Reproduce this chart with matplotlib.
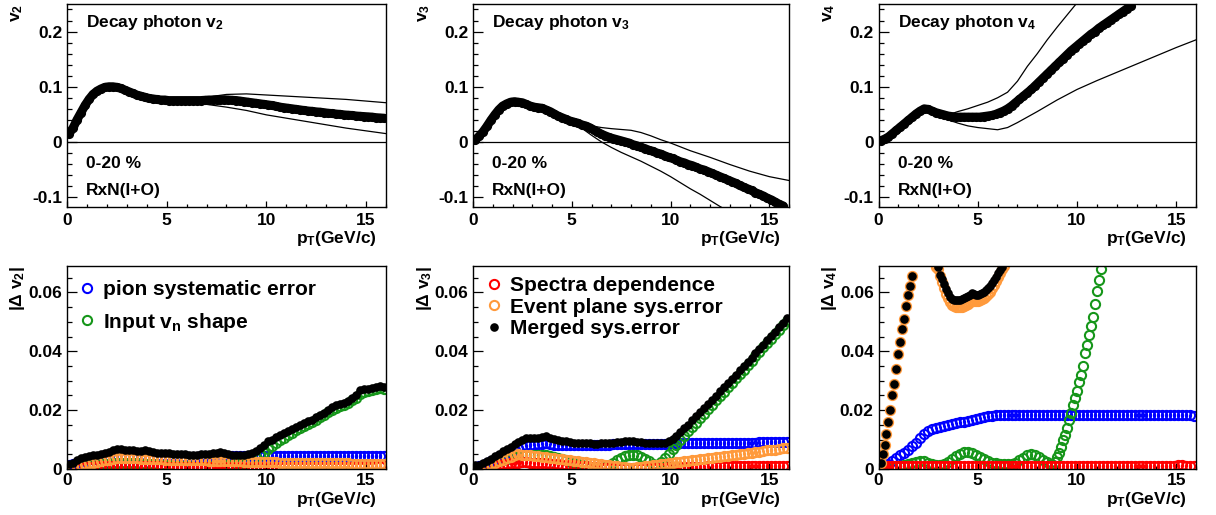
import numpy as np
import matplotlib
matplotlib.use("Agg")
import matplotlib.pyplot as plt
from matplotlib.ticker import MultipleLocator, FuncFormatter

plt.rcParams.update({
    "font.family": ["Liberation Sans", "DejaVu Sans"],
    "font.weight": "bold",
    "mathtext.fontset": "custom",
    "mathtext.rm": "Liberation Sans:bold",
    "mathtext.it": "Liberation Sans:bold",
    "mathtext.bf": "Liberation Sans:bold",
    "mathtext.sf": "Liberation Sans:bold",
    "axes.unicode_minus": False,
})

# ---------------------------------------------------------------- data
# pT bin centres (GeV/c)
PT = [0.1, 0.3, 0.5, 0.7, 0.9, 1.1, 1.3, 1.5, 1.7, 1.9,
      2.1, 2.3, 2.5, 2.7, 2.9, 3.1, 3.3, 3.5, 3.7, 3.9,
      4.1, 4.3, 4.5, 4.7, 4.9, 5.1, 5.3, 5.5, 5.7, 5.9,
      6.1, 6.3, 6.5, 6.7, 6.9, 7.1, 7.3, 7.5, 7.7, 7.9,
      8.1, 8.3, 8.5, 8.7, 8.9, 9.1, 9.3, 9.5, 9.7, 9.9,
      10.1, 10.3, 10.5, 10.7, 10.9, 11.1, 11.3, 11.5, 11.7, 11.9,
      12.1, 12.3, 12.5, 12.7, 12.9, 13.1, 13.3, 13.5, 13.7, 13.9,
      14.1, 14.3, 14.5, 14.7, 14.9, 15.1, 15.3, 15.5, 15.7, 15.9]

# decay photon v_n (central) and its systematic envelope
V2_CENTRAL = [0.015, 0.025, 0.040, 0.053, 0.066, 0.077, 0.086, 0.092, 0.096, 0.099,
              0.100, 0.100, 0.099, 0.097, 0.094, 0.091, 0.088, 0.085, 0.083, 0.081,
              0.079, 0.078, 0.077, 0.076, 0.076, 0.075, 0.075, 0.075, 0.075, 0.075,
              0.075, 0.075, 0.075, 0.075, 0.0755, 0.076, 0.076, 0.0765, 0.0765, 0.0765,
              0.076, 0.0755, 0.075, 0.074, 0.073, 0.072, 0.071, 0.070, 0.069, 0.068,
              0.067, 0.066, 0.0645, 0.063, 0.062, 0.061, 0.060, 0.059, 0.058, 0.057,
              0.056, 0.0555, 0.0545, 0.054, 0.053, 0.052, 0.0515, 0.0505, 0.050, 0.049,
              0.0485, 0.048, 0.047, 0.0465, 0.046, 0.0455, 0.045, 0.044, 0.0435, 0.043]
V2_ENV_PT = [0.1, 0.5, 1, 1.5, 2, 2.5, 3, 4, 5, 6, 7, 8, 9, 10, 11, 12, 13, 14, 15, 16]
V2_UPPER = [0.015, 0.040, 0.074, 0.092, 0.099, 0.099, 0.093, 0.080, 0.076, 0.077,
            0.081, 0.086, 0.087, 0.085, 0.083, 0.081, 0.079, 0.077, 0.074, 0.071]
V2_LOWER = [0.015, 0.040, 0.074, 0.092, 0.099, 0.099, 0.093, 0.080, 0.075, 0.072,
            0.068, 0.063, 0.057, 0.049, 0.043, 0.037, 0.031, 0.025, 0.020, 0.015]

V3_CENTRAL = [0.003, 0.010, 0.018, 0.028, 0.039, 0.049, 0.058, 0.065, 0.069, 0.072,
              0.073, 0.072, 0.071, 0.068, 0.065, 0.063, 0.062, 0.061, 0.058, 0.055,
              0.051, 0.047, 0.044, 0.041, 0.038, 0.036, 0.034, 0.031, 0.029, 0.026,
              0.022, 0.018, 0.014, 0.011, 0.008, 0.006, 0.004, 0.002, 0.000, -0.002,
              -0.005, -0.007, -0.010, -0.012, -0.015, -0.017, -0.020, -0.022, -0.025, -0.028,
              -0.030, -0.033, -0.036, -0.038, -0.041, -0.043, -0.046, -0.049, -0.051, -0.054,
              -0.057, -0.060, -0.063, -0.066, -0.069, -0.072, -0.075, -0.079, -0.082, -0.085,
              -0.088, -0.092, -0.095, -0.098, -0.102, -0.105, -0.109, -0.113, -0.116]
V3_UPPER_PT = [0.1, 0.5, 1, 1.5, 2, 2.5, 3, 3.5, 4, 4.5, 5, 5.5, 6, 6.5, 7, 7.5, 8, 8.5,
               9, 9.5, 10, 11, 12, 13, 14, 15, 16]
V3_UPPER = [0.003, 0.018, 0.045, 0.065, 0.073, 0.071, 0.065, 0.061, 0.053, 0.045,
            0.039, 0.034, 0.029, 0.026, 0.024, 0.0225, 0.021, 0.017, 0.011, 0.004,
            -0.002, -0.016, -0.028, -0.041, -0.053, -0.063, -0.070]
V3_LOWER_PT = [0.1, 0.5, 1, 1.5, 2, 2.5, 3, 3.5, 4, 4.5, 5, 5.5, 6, 6.5, 7, 7.5, 8, 8.5,
               9, 9.5, 10, 10.5, 11, 11.5, 12, 12.5, 12.8]
V3_LOWER = [0.003, 0.018, 0.045, 0.065, 0.073, 0.071, 0.065, 0.061, 0.052, 0.043,
            0.036, 0.025, 0.012, 0.000, -0.010, -0.019, -0.027, -0.035, -0.044, -0.053,
            -0.063, -0.074, -0.085, -0.095, -0.106, -0.117, -0.123]

V4_CENTRAL = [0.002, 0.005, 0.009, 0.015, 0.021, 0.027, 0.033, 0.039, 0.045, 0.051,
              0.056, 0.060, 0.059, 0.056, 0.053, 0.051, 0.049, 0.047, 0.046, 0.045,
              0.045, 0.045, 0.045, 0.045, 0.045, 0.045, 0.046, 0.047, 0.048, 0.050,
              0.053, 0.056, 0.060, 0.065, 0.071, 0.077, 0.083, 0.089, 0.095, 0.102,
              0.109, 0.116, 0.123, 0.130, 0.137, 0.144, 0.151, 0.158, 0.165, 0.171,
              0.177, 0.183, 0.189, 0.195, 0.200, 0.206, 0.211, 0.216, 0.221, 0.226,
              0.231, 0.236, 0.241, 0.246]
V4_UPPER_PT = [0.1, 0.5, 1, 1.5, 2, 2.3, 2.5, 3, 3.5, 4, 4.5, 5, 5.5, 6, 6.5, 7, 7.5, 8,
               8.5, 9, 9.5, 10]
V4_UPPER = [0.002, 0.009, 0.024, 0.039, 0.054, 0.060, 0.059, 0.052, 0.049, 0.055,
            0.060, 0.066, 0.072, 0.080, 0.090, 0.110, 0.137, 0.160, 0.185, 0.208,
            0.230, 0.252]
V4_LOWER_PT = [0.1, 0.5, 1, 1.5, 2, 2.3, 2.5, 3, 3.5, 4, 4.5, 5, 5.5, 6, 6.5, 7, 7.5, 8,
               9, 10, 11, 12, 13, 14, 15, 16]
V4_LOWER = [0.002, 0.009, 0.024, 0.039, 0.054, 0.060, 0.059, 0.052, 0.040, 0.034,
            0.029, 0.026, 0.024, 0.022, 0.026, 0.035, 0.045, 0.055, 0.076, 0.095,
            0.111, 0.126, 0.141, 0.156, 0.171, 0.185]

# |Delta v2| contributions
DV2_PION = [0.0015, 0.0018, 0.0022, 0.0026, 0.0030, 0.0033, 0.0035, 0.0037, 0.0039, 0.0041,
            0.0043, 0.0045, 0.0047, 0.0048, 0.0048, 0.0047, 0.0047, 0.0046, 0.0046, 0.0045,
            0.0045, 0.0044, 0.0044, 0.0044, 0.0043, 0.0043, 0.0043, 0.0043, 0.0042, 0.0042,
            0.0042, 0.0042, 0.0042, 0.0043, 0.0043, 0.0043, 0.0043, 0.0044, 0.0044, 0.0044,
            0.0044, 0.0044, 0.0043, 0.0043, 0.0043, 0.0043, 0.0043, 0.0044, 0.0044, 0.0044,
            0.0044, 0.0044, 0.0045, 0.0044, 0.0044, 0.0045, 0.0044, 0.0044, 0.0045, 0.0044,
            0.0044, 0.0045, 0.0044, 0.0044, 0.0044, 0.0045, 0.0044, 0.0044, 0.0045, 0.0044,
            0.0044, 0.0045, 0.0044, 0.0044, 0.0045, 0.0044, 0.0044, 0.0045, 0.0044, 0.0045]
DV2_SHAPE = [0.0003, 0.0005, 0.0007, 0.0009, 0.0011, 0.0013, 0.0014, 0.0015, 0.0016, 0.0017,
             0.0018, 0.0019, 0.0020, 0.0020, 0.0020, 0.0020, 0.0019, 0.0019, 0.0018, 0.0018,
             0.0017, 0.0016, 0.0015, 0.0014, 0.0013, 0.0012, 0.0011, 0.0010, 0.0010, 0.0009,
             0.0009, 0.0008, 0.0008, 0.0008, 0.0008, 0.0008, 0.0009, 0.0010, 0.0011, 0.0012,
             0.0013, 0.0014, 0.0016, 0.0018, 0.0021, 0.0025, 0.0030, 0.0037, 0.0046, 0.0056,
             0.0068, 0.0078, 0.0088, 0.0098, 0.0107, 0.0116, 0.0124, 0.0132, 0.0139, 0.0147,
             0.0154, 0.0161, 0.0168, 0.0176, 0.0184, 0.0193, 0.0202, 0.0209, 0.0214, 0.0219,
             0.0226, 0.0233, 0.0243, 0.0256, 0.0262, 0.0265, 0.0269, 0.0272, 0.0274, 0.0272]
DV2_SPECTRA = [0.0002, 0.0003, 0.0004, 0.0005, 0.0006, 0.0007, 0.0008, 0.0009, 0.0009, 0.0010,
               0.0010, 0.0011, 0.0011, 0.0011, 0.0011, 0.0010, 0.0010, 0.0010, 0.0010, 0.0009,
               0.0009, 0.0009, 0.0009, 0.0009, 0.0008, 0.0008, 0.0008, 0.0008, 0.0008, 0.0008,
               0.0008, 0.0008, 0.0007, 0.0007, 0.0007, 0.0007, 0.0007, 0.0007, 0.0007, 0.0007,
               0.0007, 0.0007, 0.0007, 0.0007, 0.0007, 0.0007, 0.0007, 0.0007, 0.0007, 0.0007,
               0.0007, 0.0007, 0.0007, 0.0007, 0.0008, 0.0008, 0.0008, 0.0008, 0.0008, 0.0008,
               0.0008, 0.0008, 0.0008, 0.0008, 0.0008, 0.0008, 0.0008, 0.0008, 0.0008, 0.0008,
               0.0008, 0.0008, 0.0008, 0.0008, 0.0008, 0.0008, 0.0008, 0.0009, 0.0009, 0.0009]
DV2_EP = [0.0004, 0.0006, 0.0009, 0.0012, 0.0016, 0.0019, 0.0022, 0.0025, 0.0028, 0.0030,
          0.0032, 0.0035, 0.0038, 0.0039, 0.0038, 0.0037, 0.0036, 0.0036, 0.0035, 0.0035,
          0.0034, 0.0034, 0.0033, 0.0033, 0.0032, 0.0032, 0.0031, 0.0031, 0.0031, 0.0030,
          0.0030, 0.0030, 0.0029, 0.0029, 0.0029, 0.0028, 0.0028, 0.0028, 0.0027, 0.0027,
          0.0027, 0.0026, 0.0026, 0.0026, 0.0025, 0.0025, 0.0025, 0.0024, 0.0024, 0.0024,
          0.0023, 0.0023, 0.0023, 0.0022, 0.0022, 0.0022, 0.0022, 0.0021, 0.0021, 0.0021,
          0.0021, 0.0020, 0.0020, 0.0020, 0.0020, 0.0020, 0.0019, 0.0019, 0.0019, 0.0019,
          0.0019, 0.0018, 0.0018, 0.0018, 0.0018, 0.0018, 0.0017, 0.0017, 0.0017, 0.0017]
DV2_MERGED = [0.0018, 0.0022, 0.0030, 0.0036, 0.0040, 0.0043, 0.0046, 0.0047, 0.0050, 0.0054,
              0.0058, 0.0063, 0.0068, 0.0068, 0.0066, 0.0064, 0.0063, 0.0062, 0.0061, 0.0063,
              0.0060, 0.0058, 0.0056, 0.0055, 0.0054, 0.0053, 0.0052, 0.0051, 0.0050, 0.0050,
              0.0049, 0.0048, 0.0048, 0.0050, 0.0051, 0.0052, 0.0053, 0.0055, 0.0057, 0.0056,
              0.0052, 0.0049, 0.0047, 0.0046, 0.0047, 0.0050, 0.0056, 0.0062, 0.0072, 0.0083,
              0.0095, 0.0100, 0.0108, 0.0115, 0.0121, 0.0128, 0.0135, 0.0142, 0.0148, 0.0156,
              0.0162, 0.0168, 0.0176, 0.0183, 0.0192, 0.0201, 0.0212, 0.0218, 0.0221, 0.0225,
              0.0232, 0.0240, 0.0252, 0.0268, 0.0272, 0.0272, 0.0277, 0.0280, 0.0282, 0.0278]

# |Delta v3| contributions
DV3_PION = [0.0008, 0.0010, 0.0014, 0.0020, 0.0026, 0.0032, 0.0039, 0.0046, 0.0053, 0.0060,
            0.0066, 0.0072, 0.0077, 0.0080, 0.0082, 0.0083, 0.0084, 0.0086, 0.0087, 0.0085,
            0.0083, 0.0082, 0.0082, 0.0081, 0.0081, 0.0081, 0.0081, 0.0082, 0.0082, 0.0082,
            0.0082, 0.0082, 0.0083, 0.0083, 0.0083, 0.0084, 0.0084, 0.0084, 0.0084, 0.0085,
            0.0085, 0.0085, 0.0085, 0.0085, 0.0085, 0.0086, 0.0086, 0.0086, 0.0086, 0.0086,
            0.0087, 0.0087, 0.0087, 0.0087, 0.0087, 0.0088, 0.0088, 0.0088, 0.0088, 0.0088,
            0.0088, 0.0089, 0.0089, 0.0089, 0.0089, 0.0089, 0.0090, 0.0090, 0.0090, 0.0090,
            0.0090, 0.0090, 0.0091, 0.0091, 0.0091, 0.0091, 0.0091, 0.0092, 0.0092, 0.0092]
DV3_SHAPE = [0.0003, 0.0006, 0.0010, 0.0014, 0.0018, 0.0022, 0.0026, 0.0030, 0.0034, 0.0038,
             0.0041, 0.0044, 0.0046, 0.0047, 0.0047, 0.0047, 0.0047, 0.0047, 0.0046, 0.0044,
             0.0041, 0.0037, 0.0033, 0.0029, 0.0025, 0.0020, 0.0016, 0.0012, 0.0009, 0.0006,
             0.0004, 0.0003, 0.0004, 0.0008, 0.0014, 0.0022, 0.0030, 0.0038, 0.0044, 0.0048,
             0.0049, 0.0047, 0.0042, 0.0035, 0.0026, 0.0017, 0.0014, 0.0025, 0.0038, 0.0052,
             0.0068, 0.0083, 0.0098, 0.0113, 0.0128, 0.0143, 0.0158, 0.0173, 0.0188, 0.0203,
             0.0218, 0.0233, 0.0248, 0.0263, 0.0278, 0.0293, 0.0308, 0.0323, 0.0338, 0.0353,
             0.0368, 0.0383, 0.0398, 0.0413, 0.0428, 0.0443, 0.0458, 0.0473, 0.0488, 0.0503]
DV3_SPECTRA = [0.0002, 0.0004, 0.0006, 0.0008, 0.0010, 0.0012, 0.0014, 0.0016, 0.0018, 0.0020,
               0.0021, 0.0022, 0.0023, 0.0023, 0.0022, 0.0022, 0.0021, 0.0020, 0.0019, 0.0018,
               0.0017, 0.0016, 0.0015, 0.0014, 0.0013, 0.0012, 0.0011, 0.0010, 0.0009, 0.0008,
               0.0007, 0.0006, 0.0005, 0.0005, 0.0004, 0.0004, 0.0003, 0.0003, 0.0003, 0.0003,
               0.0003, 0.0003, 0.0003, 0.0004, 0.0004, 0.0004, 0.0005, 0.0005, 0.0005, 0.0006,
               0.0006, 0.0006, 0.0007, 0.0007, 0.0007, 0.0008, 0.0008, 0.0008, 0.0008, 0.0009,
               0.0009, 0.0009, 0.0009, 0.0010, 0.0010, 0.0010, 0.0010, 0.0010, 0.0010, 0.0011,
               0.0011, 0.0011, 0.0011, 0.0011, 0.0011, 0.0011, 0.0011, 0.0011, 0.0011, 0.0011]
DV3_EP = [0.0003, 0.0005, 0.0008, 0.0012, 0.0016, 0.0021, 0.0026, 0.0031, 0.0036, 0.0041,
          0.0046, 0.0050, 0.0049, 0.0048, 0.0046, 0.0045, 0.0043, 0.0042, 0.0040, 0.0038,
          0.0037, 0.0035, 0.0033, 0.0032, 0.0030, 0.0028, 0.0027, 0.0025, 0.0023, 0.0022,
          0.0020, 0.0018, 0.0016, 0.0015, 0.0013, 0.0011, 0.0009, 0.0008, 0.0006, 0.0005,
          0.0005, 0.0006, 0.0008, 0.0009, 0.0011, 0.0013, 0.0014, 0.0016, 0.0018, 0.0019,
          0.0021, 0.0023, 0.0024, 0.0026, 0.0028, 0.0030, 0.0031, 0.0033, 0.0035, 0.0037,
          0.0038, 0.0040, 0.0042, 0.0044, 0.0045, 0.0047, 0.0049, 0.0051, 0.0052, 0.0054,
          0.0056, 0.0058, 0.0059, 0.0061, 0.0063, 0.0065, 0.0066, 0.0068, 0.0070, 0.0072]
DV3_MERGED = [0.0012, 0.0015, 0.0020, 0.0027, 0.0035, 0.0043, 0.0052, 0.0060, 0.0068, 0.0076,
              0.0084, 0.0092, 0.0099, 0.0104, 0.0106, 0.0106, 0.0107, 0.0110, 0.0111, 0.0106,
              0.0101, 0.0098, 0.0096, 0.0094, 0.0092, 0.0090, 0.0089, 0.0088, 0.0087, 0.0087,
              0.0086, 0.0086, 0.0087, 0.0088, 0.0089, 0.0090, 0.0092, 0.0093, 0.0094, 0.0094,
              0.0094, 0.0093, 0.0091, 0.0089, 0.0088, 0.0087, 0.0087, 0.0088, 0.0090, 0.0095,
              0.0102, 0.0113, 0.0125, 0.0138, 0.0151, 0.0165, 0.0179, 0.0193, 0.0207, 0.0221,
              0.0235, 0.0249, 0.0264, 0.0278, 0.0292, 0.0307, 0.0321, 0.0336, 0.0350, 0.0365,
              0.0379, 0.0394, 0.0409, 0.0423, 0.0438, 0.0453, 0.0467, 0.0482, 0.0497, 0.0512]

# |Delta v4| contributions
DV4_PION = [0.0004, 0.0009, 0.0018, 0.0028, 0.0037, 0.0046, 0.0055, 0.0065, 0.0077, 0.0090,
            0.0104, 0.0118, 0.0129, 0.0136, 0.0140, 0.0144, 0.0147, 0.0150, 0.0153, 0.0156,
            0.0159, 0.0161, 0.0163, 0.0166, 0.0169, 0.0172, 0.0176, 0.0179, 0.0181, 0.0182,
            0.0183, 0.0183, 0.0184, 0.0184, 0.0184, 0.0184, 0.0183, 0.0183, 0.0184, 0.0184,
            0.0184, 0.0184, 0.0183, 0.0183, 0.0183, 0.0184, 0.0184, 0.0184, 0.0183, 0.0183,
            0.0183, 0.0183, 0.0183, 0.0183, 0.0183, 0.0183, 0.0183, 0.0183, 0.0183, 0.0183,
            0.0183, 0.0183, 0.0183, 0.0182, 0.0182, 0.0182, 0.0182, 0.0182, 0.0182, 0.0182,
            0.0182, 0.0182, 0.0182, 0.0182, 0.0182, 0.0182, 0.0183, 0.0183, 0.0183, 0.0181]
DV4_SHAPE_LOW = [0.0002, 0.0004, 0.0006, 0.0008, 0.0010, 0.0011, 0.0013, 0.0016, 0.0020, 0.0025,
                 0.0028, 0.0027, 0.0022, 0.0016, 0.0012, 0.0012, 0.0016, 0.0024, 0.0033, 0.0043,
                 0.0052, 0.0057, 0.0058, 0.0055, 0.0049, 0.0042, 0.0034, 0.0027, 0.0022, 0.0019,
                 0.0017, 0.0017, 0.0017, 0.0018, 0.0022, 0.0030, 0.0039, 0.0047, 0.0050, 0.0047,
                 0.0040, 0.0031, 0.0023, 0.0018, 0.0025]
DV4_SHAPE_RISE_PT = [9.0, 9.1, 9.2, 9.3, 9.4, 9.5, 9.6, 9.7, 9.8, 9.9, 10.0, 10.1,
                     10.2, 10.3, 10.4, 10.5, 10.6, 10.7, 10.8, 10.9, 11.0, 11.1, 11.2]
DV4_SHAPE_RISE = [0.0040, 0.0055, 0.0075, 0.0098, 0.0115, 0.0140, 0.0168, 0.0190, 0.0218,
                  0.0240, 0.0265, 0.0295, 0.0320, 0.0350, 0.0395, 0.0420, 0.0455, 0.0485,
                  0.0515, 0.0560, 0.0605, 0.0643, 0.0680]
DV4_SPECTRA = [0.0006, 0.0008, 0.0009, 0.0010, 0.0010, 0.0010, 0.0010, 0.0010, 0.0010, 0.0010,
               0.0010, 0.0010, 0.0011, 0.0010, 0.0010, 0.0010, 0.0010, 0.0009, 0.0010, 0.0010,
               0.0010, 0.0010, 0.0010, 0.0011, 0.0010, 0.0010, 0.0010, 0.0010, 0.0010, 0.0009,
               0.0010, 0.0010, 0.0010, 0.0010, 0.0011, 0.0010, 0.0010, 0.0010, 0.0010, 0.0010,
               0.0010, 0.0010, 0.0010, 0.0010, 0.0010, 0.0011, 0.0010, 0.0010, 0.0010, 0.0010,
               0.0010, 0.0010, 0.0010, 0.0010, 0.0010, 0.0011, 0.0010, 0.0010, 0.0010, 0.0010,
               0.0010, 0.0010, 0.0011, 0.0010, 0.0010, 0.0010, 0.0010, 0.0011, 0.0010, 0.0010,
               0.0010, 0.0011, 0.0010, 0.0010, 0.0011, 0.0012, 0.0015, 0.0011, 0.0010, 0.0011]
DV4_EP_PT = [0.1, 0.2, 0.3, 0.4, 0.5, 0.6, 0.7, 0.8, 0.9, 1.0, 1.1, 1.2, 1.3, 1.4, 1.5, 1.6, 1.7,
             2.9, 3.0, 3.1, 3.2, 3.3, 3.4, 3.5, 3.6, 3.7, 3.8, 3.9, 4.0, 4.1, 4.2, 4.3, 4.4,
             4.5, 4.6, 4.7, 4.8, 4.9, 5.0, 5.1, 5.2, 5.3, 5.4, 5.5, 5.6, 5.7, 5.8, 5.9, 6.0,
             6.1, 6.2, 6.3]
DV4_EP = [0.002, 0.005, 0.008, 0.012, 0.016, 0.020, 0.025, 0.029, 0.034, 0.039, 0.043,
          0.0475, 0.051, 0.0555, 0.059, 0.0623, 0.0657,
          0.0688, 0.0680, 0.0655, 0.0635, 0.0615, 0.0595, 0.0580, 0.0567, 0.0558, 0.0553,
          0.0550, 0.0549, 0.0550, 0.0552, 0.0555, 0.0558, 0.0562, 0.0566, 0.0570, 0.0571,
          0.0570, 0.0570, 0.0573, 0.0577, 0.0582, 0.0588, 0.0595, 0.0603, 0.0614, 0.0626,
          0.0639, 0.0652, 0.0666, 0.0679, 0.0691]
DV4_MERGED_PT = [0.1, 0.2, 0.3, 0.4, 0.5, 0.6, 0.7, 0.8, 0.9, 1.0, 1.1, 1.2, 1.3, 1.4, 1.5,
                 1.6, 1.7,
                 3.0, 3.1, 3.2, 3.3, 3.4, 3.5, 3.6, 3.7, 3.8, 3.9, 4.0, 4.1, 4.2, 4.3, 4.4,
                 4.5, 4.6, 4.7, 4.8, 4.9, 5.0, 5.1, 5.2, 5.3, 5.4, 5.5, 5.6, 5.7, 5.8, 5.9,
                 6.0, 6.1, 6.2]
DV4_MERGED = [0.002, 0.005, 0.008, 0.012, 0.016, 0.020, 0.025, 0.029, 0.034, 0.039, 0.043,
              0.0475, 0.051, 0.0555, 0.059, 0.0623, 0.0657,
              0.0685, 0.0660, 0.0645, 0.0628, 0.0612, 0.0598, 0.0585, 0.0578, 0.0575, 0.0573,
              0.0574, 0.0575, 0.0577, 0.0580, 0.0584, 0.0588, 0.0593, 0.0597, 0.0596, 0.0593,
              0.0592, 0.0594, 0.0598, 0.0603, 0.0608, 0.0615, 0.0622, 0.0632, 0.0643, 0.0654,
              0.0665, 0.0676, 0.0686]

LABELS = {
    "pion": "pion systematic error",
    "shape": r"Input $\mathrm{v}_\mathrm{n}$ shape",
    "spectra": "Spectra dependence",
    "ep": "Event plane sys.error",
    "merged": "Merged sys.error",
}
COLORS = {"pion": "#0000ff", "shape": "#16961a", "spectra": "#ff0000",
          "ep": "#ff9a3c", "merged": "#000000"}

# ---------------------------------------------------------------- layout
fig = plt.figure(figsize=(12.16, 5.15), dpi=100)
COL_LEFT = [0.0551, 0.3890, 0.7225]
COL_W = [0.2623, 0.2599, 0.2611]
TOP_B, BOT_B, H = 0.5981, 0.0893, 0.3942
FS = 12.5


def fmt(v, _):
    v = round(v, 4)
    if v == 0:
        return "0"
    return f"{v:g}"


def style(ax, ylim, ymaj, ymin, xpad, xlab_y):
    ax.set_xlim(0, 16)
    ax.set_ylim(*ylim)
    ax.xaxis.set_major_locator(MultipleLocator(5))
    ax.xaxis.set_minor_locator(MultipleLocator(1))
    ax.yaxis.set_major_locator(MultipleLocator(ymaj))
    ax.yaxis.set_minor_locator(MultipleLocator(ymin))
    ax.xaxis.set_major_formatter(FuncFormatter(fmt))
    ax.yaxis.set_major_formatter(FuncFormatter(fmt))
    ax.tick_params(which="both", direction="in", top=False, right=False,
                   labelsize=FS, width=0.9)
    ax.tick_params(axis="y", which="major", length=7, pad=3.5)
    ax.tick_params(axis="y", which="minor", length=3.5)
    ax.tick_params(axis="x", which="major", length=4.5, pad=xpad)
    ax.tick_params(axis="x", which="minor", length=2.2)
    for s in ax.spines.values():
        s.set_linewidth(1.0)
    ax.text(0.972, xlab_y, r"$\mathrm{p}_\mathrm{T}$(GeV/c)", transform=ax.transAxes,
            ha="right", va="baseline", fontsize=FS)


# ---------------------------------------------------------------- top row
top_sets = [
    (2, V2_CENTRAL, V2_ENV_PT, V2_UPPER, V2_ENV_PT, V2_LOWER),
    (3, V3_CENTRAL, V3_UPPER_PT, V3_UPPER, V3_LOWER_PT, V3_LOWER),
    (4, V4_CENTRAL, V4_UPPER_PT, V4_UPPER, V4_LOWER_PT, V4_LOWER),
]
for i, (n, cen, upx, up, lox, lo) in enumerate(top_sets):
    ax = fig.add_axes([COL_LEFT[i], TOP_B, COL_W[i], H])
    style(ax, (-0.118, 0.25), 0.1, 0.02, 4.5, -0.178)
    ax.axhline(0, color="k", lw=0.9)
    ax.plot(upx, up, color="k", lw=0.9)
    ax.plot(lox, lo, color="k", lw=0.9)
    # dense markers of the central value merge into a thick band
    ax.plot(PT[:len(cen)], cen, "-o", color="k", lw=6.4, ms=6.6, mew=0,
            solid_capstyle="round", solid_joinstyle="round")
    ax.text(0.06, 0.888, "Decay photon $\\mathrm{v}_%d$" % n, transform=ax.transAxes,
            fontsize=FS, va="baseline")
    ax.text(0.06, 0.192, "0-20 %", transform=ax.transAxes, fontsize=FS, va="baseline")
    ax.text(0.06, 0.059, "RxN(I+O)", transform=ax.transAxes, fontsize=FS, va="baseline")
    ax.text(-0.155, 1.0, "$\\mathrm{v}_%d$" % n, rotation=90, transform=ax.transAxes,
            ha="center", va="top", fontsize=FS)

# ---------------------------------------------------------------- bottom row
open_kw = dict(ls="none", marker="o", mfc="none", ms=6.6, mew=1.5)
full_kw = dict(ls="none", marker="o", ms=6.2, mew=0)

bottom_sets = [
    (2, [("pion", PT, DV2_PION), ("shape", PT, DV2_SHAPE), ("spectra", PT, DV2_SPECTRA),
         ("ep", PT, DV2_EP), ("merged", PT, DV2_MERGED)]),
    (3, [("pion", PT, DV3_PION), ("shape", PT, DV3_SHAPE), ("spectra", PT, DV3_SPECTRA),
         ("ep", PT, DV3_EP), ("merged", PT, DV3_MERGED)]),
    (4, [("pion", PT, DV4_PION),
         ("shape", PT[:len(DV4_SHAPE_LOW)] + DV4_SHAPE_RISE_PT, DV4_SHAPE_LOW + DV4_SHAPE_RISE),
         ("spectra", PT, DV4_SPECTRA),
         ("ep", DV4_EP_PT, DV4_EP), ("merged", DV4_MERGED_PT, DV4_MERGED)]),
]
handles = {}
for i, (n, series) in enumerate(bottom_sets):
    ax = fig.add_axes([COL_LEFT[i], BOT_B, COL_W[i], H])
    style(ax, (0, 0.069), 0.02, 0.005, 3.0, -0.17)
    for key, xs, ys in series:
        if key == "merged":
            h, = ax.plot(xs, ys, color=COLORS[key], label=LABELS[key], **full_kw)
        else:
            h, = ax.plot(xs, ys, mec=COLORS[key], label=LABELS[key], **open_kw)
        handles.setdefault(key, h)
    ax.text(-0.155, 1.0, "|\u0394 $\\mathrm{v}_%d$|" % n, rotation=90,
            transform=ax.transAxes, ha="center", va="top", fontsize=FS)
    if i == 0:
        ax.legend([handles["pion"], handles["shape"]], [LABELS["pion"], LABELS["shape"]],
                  loc="upper left", bbox_to_anchor=(0.037, 0.93), frameon=False,
                  fontsize=15, handlelength=0.8, handletextpad=0.37, labelspacing=0.55,
                  borderpad=0, borderaxespad=0, numpoints=1)
    elif i == 1:
        ax.legend([handles["spectra"], handles["ep"], handles["merged"]],
                  [LABELS["spectra"], LABELS["ep"], LABELS["merged"]],
                  loc="upper left", bbox_to_anchor=(0.04, 0.95), frameon=False,
                  fontsize=15, handlelength=0.8, handletextpad=0.37, labelspacing=0.12,
                  borderpad=0, borderaxespad=0, numpoints=1)

fig.savefig("out.png", dpi=100)
